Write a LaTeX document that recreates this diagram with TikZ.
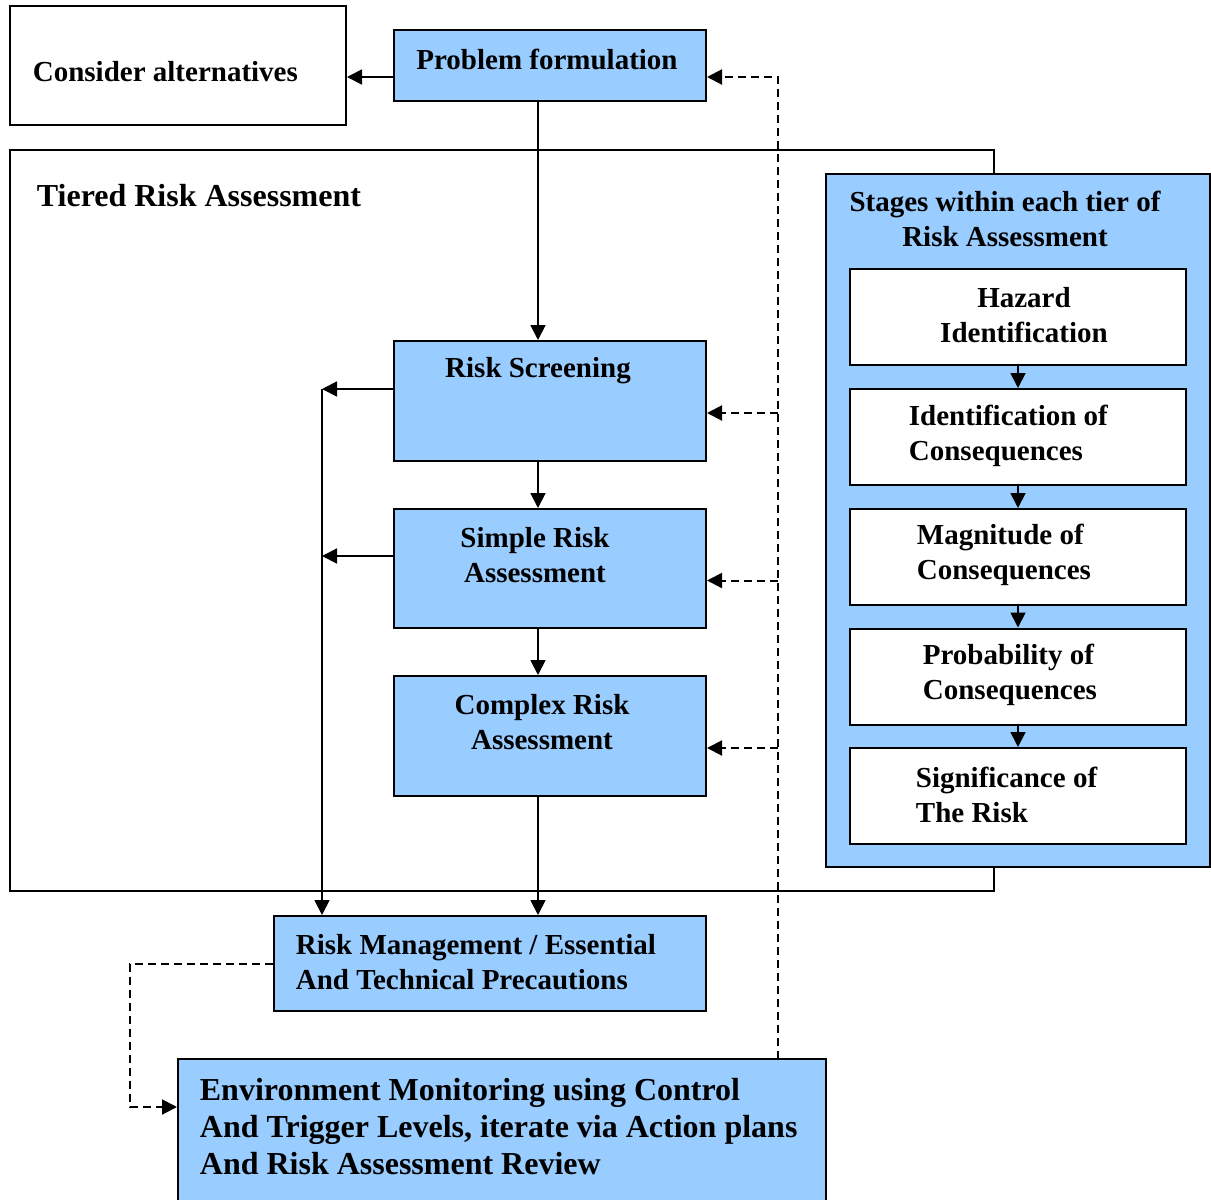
\documentclass[tikz,border=0pt]{standalone}
\usepackage{fontspec}
\setmainfont{Liberation Serif}
\usetikzlibrary{arrows.meta,positioning}
\definecolor{paleblue}{HTML}{99CCFF}

\begin{document}
\begin{tikzpicture}[x=1pt ,y=-1pt ,line width=1.8pt ,
>={Triangle[length=15pt,width=15pt]} ,
box/.style ={rectangle ,draw ,line width=2pt ,fill=white ,inner sep=0pt} ,
bluebox/.style ={box ,fill=paleblue} ,
stagebox/.style ={box ,minimum width=336pt ,minimum height=96pt} ,
tierbox/.style ={bluebox ,minimum width=312pt ,minimum height=120pt} ,
txt/.style ={font=\bfseries\fontsize{29}{35}\selectfont ,inner sep=0pt} ,
bigtxt/.style ={font=\bfseries\fontsize{32}{37}\selectfont ,inner sep=0pt} ,
fback/.style ={-> ,line width=2pt ,dash pattern=on 8pt off 5pt}]
\clip (0,0) rectangle (1211,1200);
% boxes
\node[box ,minimum width=336pt ,minimum height=119pt] (ca) at (178,65.5) {};
\node[bluebox ,minimum width=312pt ,minimum height=71pt] (pf) at (550,65.5) {};
\node[box ,minimum width=984pt ,minimum height=741pt] (tier) at (502,520.5) {};
\node[bluebox ,minimum width=384pt ,minimum height=693pt] (stages) at (1018,520.5) {};
\foreach \i/\y in {1/317,2/437,3/557,4/676.5,5/796}
  \node[stagebox] (s\i) at (1018,\y) {};
\node[tierbox] (rs) at (550,401) {};
\node[tierbox ,minimum height=119pt] (sra) at (550,568.5) {};
\node[tierbox] (cra) at (550,736) {};
\node[bluebox ,minimum width=432pt ,minimum height=95pt] (rm) at (490,963.5) {};
\node[bluebox ,minimum width=648pt ,minimum height=161pt] (em) at (502,1139.5) {};
% texts
\node[txt ,anchor=west] (cat) at (32,72) {Consider alternatives};
\node[txt] (pft) at (547,59) {Problem formulation};
\node[bigtxt ,anchor=west] (tiert) at (36,196) {Tiered Risk Assessment};
\node[txt ,align=center] (stt) at (1005,219) {Stages within each tier of\\Risk Assessment};
\node[txt ,align=center] (s1t) at (1024,315.5) {Hazard\\Identification};
\node[txt ,align=left ,anchor=west] (s2t) at (908,435.5) {Identification of\\Consequences};
\node[txt ,align=left ,anchor=west] (s3t) at (916,554.5) {Magnitude of\\Consequences};
\node[txt ,align=left ,anchor=west] (s4t) at (922,674.5) {Probability of\\Consequences};
\node[txt ,align=left ,anchor=west] (s5t) at (915,794.5) {Significance of\\The Risk};
\node[txt] (rst) at (538,371) {Risk Screening};
\node[txt ,align=center] (srat) at (535,555) {Simple Risk\\Assessment};
\node[txt ,align=center] (crat) at (542,722.5) {Complex Risk\\Assessment};
\node[txt ,align=left ,anchor=west] (rmt) at (295,962) {Risk Management / Essential\\And Technical Precautions};
\node[bigtxt ,align=left ,anchor=west] (emt) at (199,1127) {Environment Monitoring using Control\\And Trigger Levels, iterate via Action plans\\And Risk Assessment Review};
% connectors
\draw[->] ([yshift=-11.5pt]pf.west) -- ([yshift=-11.5pt]ca.east);
\draw[->] ([xshift=-12pt]pf.south) -- ([xshift=-12pt]rs.north);
\draw[->] ([xshift=-12pt]rs.south) -- ([xshift=-12pt]sra.north);
\draw[->] ([xshift=-12pt]sra.south) -- ([xshift=-12pt]cra.north);
\draw[->] ([xshift=-12pt]cra.south) -- ([xshift=-12pt]cra.south |- rm.north);
\foreach \a/\b in {s1/s2,s2/s3,s3/s4,s4/s5}
  \draw[->] (\a.south) -- (\b.north);
\coordinate (bus) at (322,389);
\coordinate (sraout) at ([yshift=12.5pt]sra.west);
\draw[->] ([yshift=12pt]rs.west) -- (bus);
\draw[->] (sraout) -- (bus |- sraout);
\draw[->] (bus) -- (bus |- rm.north);
\coordinate (fb) at (778,1059);
\draw[fback] (fb) |- ([yshift=-11.5pt]pf.east);
\foreach \n in {rs,sra,cra} {
  \coordinate (\n-in) at ([yshift=-12pt]\n.east);
  \draw[fback] (fb |- \n-in) -- (\n-in);
}
\coordinate (loop) at (130,1107);
\draw[fback] (rm.west) -| (loop) -- (loop -| em.west);
\end{tikzpicture}
\end{document}
